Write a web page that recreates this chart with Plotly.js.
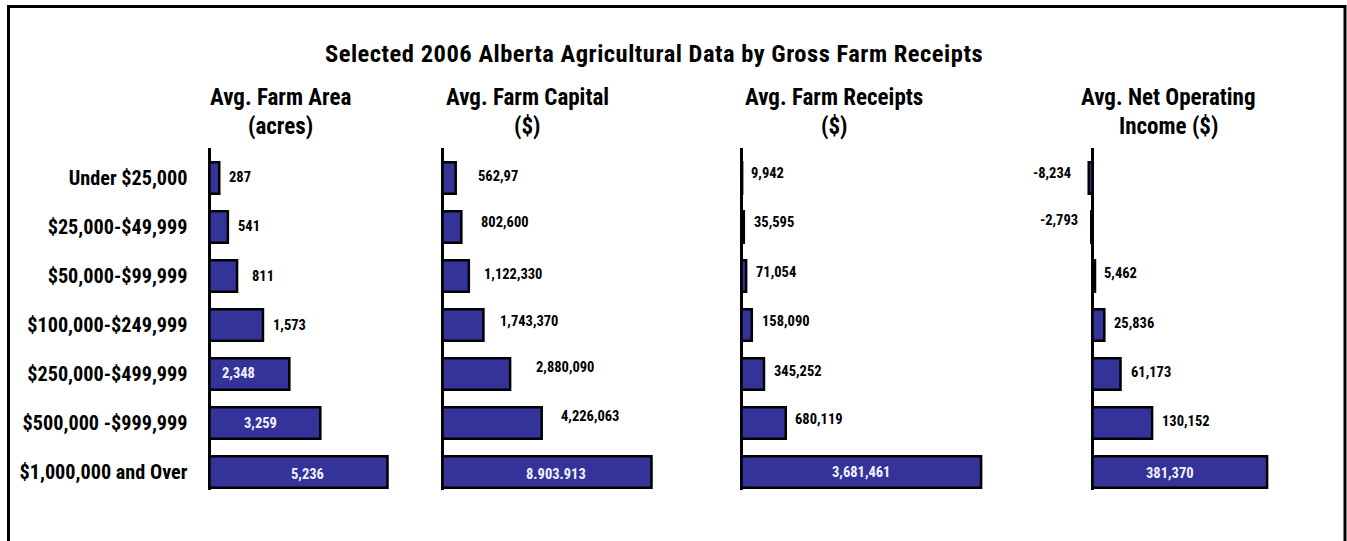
<!DOCTYPE html>
<html>
<head>
<meta charset="utf-8">
<script src="https://cdn.plot.ly/plotly-3.0.1.min.js"></script>
<style>
  html, body { margin: 0; padding: 0; background: #ffffff; }
  #chart { width: 1347px; height: 541px; }
</style>
</head>
<body>
<div id="chart"></div>
<script>
// ---------------- data ----------------
const categories = [
  "Under $25,000", "$25,000-$49,999", "$50,000-$99,999", "$100,000-$249,999",
  "$250,000-$499,999", "$500,000 -$999,999", "$1,000,000 and Over"
];
const farmArea = [287, 541, 811, 1573, 2348, 3259, 5236];
const farmAreaLabels = ["287", "541", "811", "1,573", "2,348", "3,259", "5,236"];
const farmCapital = [562970, 802600, 1122330, 1743370, 2880090, 4226063, 8903913];
const farmCapitalLabels = ["562,97", "802,600", "1,122,330", "1,743,370", "2,880,090", "4,226,063", "8.903.913"];
const farmReceipts = [9942, 35595, 71054, 158090, 345252, 680119, 3681461];
const farmReceiptsLabels = ["9,942", "35,595", "71,054", "158,090", "345,252", "680,119", "3,681,461"];
const netIncome = [-8234, -2793, 5462, 25836, 61173, 130152, 381370];
const netIncomeLabels = ["-8,234", "-2,793", "5,462", "25,836", "61,173", "130,152", "381,370"];
const chartTitle = "Selected 2006 Alberta Agricultural Data by Gross Farm Receipts";
const panelTitleLine1 = ["Avg. Farm Area", "Avg. Farm Capital", "Avg. Farm Receipts", "Avg. Net Operating"];
const panelTitleLine2 = ["(acres)", "($)", "($)", "Income ($)"];

// ---------------- font selection & sizing ----------------
const ctx = document.createElement("canvas").getContext("2d");
function hasFont(f) {
  const s = "abcdefghijklmnopqrstuvwxyz ABCDEFGHIJKLMNOPQRSTUVWXYZ 0123456789$,()";
  for (const base of ["monospace", "serif"]) {
    ctx.font = "40px " + base;
    const a = ctx.measureText(s).width;
    ctx.font = "40px '" + f + "', " + base;
    if (ctx.measureText(s).width !== a) return true;
  }
  return false;
}
const candidates = ["Liberation Sans Narrow", "Arial Narrow", "Roboto Condensed", "Noto Sans Condensed",
                    "Open Sans Condensed", "DejaVu Sans Condensed", "Liberation Sans"];
const chosen = candidates.find(hasFont) || "sans-serif";
const FONT = "'" + chosen + "', sans-serif";
const WEIGHT = "bold";
function textW(text, size) {
  ctx.font = WEIGHT + " " + size + "px " + FONT;
  return ctx.measureText(text).width;
}
function fitSize(text, targetW, maxSize) {
  return Math.min(maxSize, 40 * targetW / textW(text, 40));
}
const titleSize = fitSize(chartTitle, 658, 24.5);
const titleSpacing = Math.max(0, (658 - textW(chartTitle, titleSize)) / chartTitle.length);
const panelTitleSize = fitSize("Avg. Farm Area", 144, 23);
const catSize = fitSize("$1,000,000 and Over", 168, 21);
const valueSize = fitSize("4,226,063", 58.5, 16.5);
const B = t => "<b>" + t + "</b>";
const st = document.createElement("style");
st.textContent = ".gtitle { letter-spacing: " + titleSpacing.toFixed(2) + "px; }";
document.head.appendChild(st);

// ---------------- styling / layout ----------------
const W = 1347, H = 541;
const BAR_FILL = "#333399";
const px = v => v / W;
const py = v => 1 - v / H;

const panels = [
  { values: farmArea, labels: farmAreaLabels, dom: [204.5, 420], range: [-147, 6192],
    inside: [false, false, false, false, true, true, true],
    dx: [8, 8, 13, 8, -11, -4, 9], dy: [0, 0, 0, 0, 1, 0, -2] },
  { values: farmCapital, labels: farmCapitalLabels, dom: [437.5, 700], range: [-213012, 10970100],
    inside: [false, false, false, false, false, false, true],
    dx: [20, 18, 13, 15, 24, 17, 9], dy: [1, 4, 2, 4, 7, 7, -2] },
  { values: farmReceipts, labels: farmReceiptsLabels, dom: [736.5, 1000], range: [-76825, 3971860],
    inside: [false, false, false, false, false, false, true],
    dx: [7, 8, 8, 8, 8, 7, 0], dy: [4, 4, 4, 4, 3, 4, 0] },
  { values: netIncome, labels: netIncomeLabels, dom: [1050, 1300], range: [-92830, 453230],
    inside: [false, false, false, false, false, false, true],
    dx: [-16, -11, 7, 8, 8, 8, -10], dy: [4, 6, 3, 2, 2, 2, -1] }
];

const yRange = [6.367, -0.612];
const yDomain = [py(490), py(148)];

const data = [];
const annotations = [];
const layout = {
  width: W, height: H,
  margin: { l: 0, r: 0, t: 0, b: 0 },
  paper_bgcolor: "#ffffff",
  plot_bgcolor: "rgba(0,0,0,0)",
  showlegend: false,
  bargap: 0.36,
  font: { family: FONT, color: "#000000" },
  title: {
    text: B(chartTitle),
    font: { family: FONT, size: titleSize, color: "#000000" },
    x: px(654), xref: "paper", xanchor: "center",
    y: 1 - 53 / H, yref: "container", yanchor: "middle"
  },
  shapes: [{
    type: "rect", xref: "paper", yref: "paper",
    x0: px(8.5), x1: px(1345), y0: -0.1, y1: py(6.5),
    line: { color: "#000000", width: 3 }, fillcolor: "rgba(0,0,0,0)", layer: "above"
  }],
  annotations: annotations
};

const titleCenters = [280, 527, 834.5, 1168];

panels.forEach((p, i) => {
  const n = i + 1;
  const xa = "x" + (n === 1 ? "" : n);
  const ya = "y" + (n === 1 ? "" : n);
  data.push({
    type: "bar", orientation: "h",
    x: p.values, y: categories,
    xaxis: xa, yaxis: ya,
    marker: { color: BAR_FILL, line: { color: "#000000", width: 2.5 } },
    hoverinfo: "x+y",
    cliponaxis: false
  });
  layout["xaxis" + (n === 1 ? "" : n)] = {
    domain: [px(p.dom[0]), px(p.dom[1])],
    range: p.range,
    anchor: ya,
    showgrid: false, showticklabels: false, ticks: "",
    showline: false,
    zeroline: true, zerolinecolor: "#000000", zerolinewidth: 3
  };
  layout["yaxis" + (n === 1 ? "" : n)] = {
    domain: yDomain,
    range: yRange,
    type: "category",
    anchor: xa,
    showgrid: false, zeroline: false, showline: false,
    ticks: "",
    showticklabels: n === 1,
    ticklabelstandoff: 16,
    tickfont: { family: FONT, size: catSize, color: "#000000", weight: "bold" }
  };
  // value labels
  p.values.forEach((v, k) => {
    const inside = p.inside[k];
    annotations.push({
      xref: xa, yref: ya,
      x: inside ? v / 2 : v,
      y: categories[k],
      text: B(p.labels[k]),
      showarrow: false,
      xanchor: inside ? "center" : (v < 0 ? "right" : "left"),
      yanchor: "middle",
      xshift: p.dx[k], yshift: p.dy[k],
      font: { family: FONT, size: valueSize, color: inside ? "#f2f2ff" : "#000000" }
    });
  });
  // panel titles (two lines)
  [[panelTitleLine1[i], 97], [panelTitleLine2[i], 127]].forEach(([t, yy]) => {
    annotations.push({
      xref: "paper", yref: "paper",
      x: px(titleCenters[i]), y: py(yy),
      text: B(t),
      showarrow: false, xanchor: "center", yanchor: "middle", align: "center",
      font: { family: FONT, size: panelTitleSize, color: "#000000" }
    });
  });
});

Plotly.newPlot("chart", data, layout, { displayModeBar: false, staticPlot: true });
</script>
</body>
</html>
